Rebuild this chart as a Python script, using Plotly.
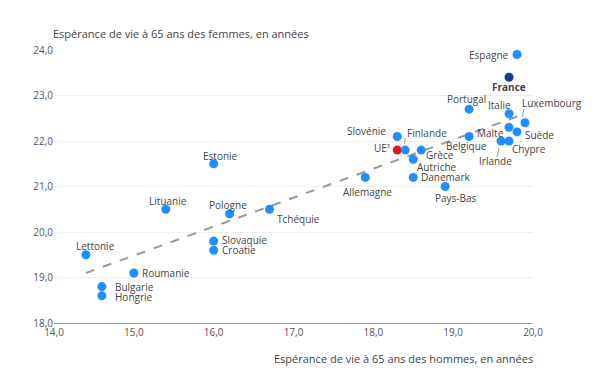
import plotly.graph_objects as go

countries = ["Espagne", "France", "Portugal", "Italie", "Luxembourg", "Malte", "Suède",
             "Slovénie", "Belgique", "Irlande", "Chypre", "UE¹", "Finlande", "Grèce",
             "Autriche", "Danemark", "Allemagne", "Pays-Bas", "Estonie", "Lituanie",
             "Pologne", "Tchéquie", "Slovaquie", "Croatie", "Lettonie", "Roumanie",
             "Bulgarie", "Hongrie"]
men = [19.8, 19.7, 19.2, 19.7, 19.9, 19.7, 19.8,
       18.3, 19.2, 19.6, 19.7, 18.3, 18.4, 18.6,
       18.5, 18.5, 17.9, 18.9, 16.0, 15.4,
       16.2, 16.7, 16.0, 16.0, 14.4, 15.0,
       14.6, 14.6]
women = [23.9, 23.4, 22.7, 22.6, 22.4, 22.3, 22.2,
         22.1, 22.1, 22.0, 22.0, 21.8, 21.8, 21.8,
         21.6, 21.2, 21.2, 21.0, 21.5, 20.5,
         20.4, 20.5, 19.8, 19.6, 19.5, 19.1,
         18.8, 18.6]
trend_x = [14.4, 19.9]
trend_y = [19.1, 22.6]
x_ticks = [14, 15, 16, 17, 18, 19, 20]
y_ticks = [18, 19, 20, 21, 22, 23, 24]

BLUE = "#1e8fff"
NAVY = "#163d8a"
RED = "#e8111f"
TXT = "#444444"
FONT = "Open Sans, sans-serif"

colors = [NAVY if c == "France" else RED if c == "UE¹" else BLUE for c in countries]

# label placement: (xanchor, xshift px, yshift px)
label_pos = {
    "Espagne": ("right", -6, 0),
    "France": ("center", 0, -10),
    "Portugal": ("center", -3, 10),
    "Italie": ("center", -10, 9),
    "Luxembourg": ("left", -5, 20),
    "Malte": ("right", -3, -6),
    "Suède": ("left", 6, -3),
    "Slovénie": ("center", -31, 5),
    "Belgique": ("center", -3, -10),
    "Irlande": ("center", -6, -20),
    "Chypre": ("left", 1, -8),
    "UE¹": ("right", -5, 2),
    "Finlande": ("left", 0, 17),
    "Grèce": ("left", 3, -5),
    "Autriche": ("left", 2, -8),
    "Danemark": ("left", 6, 0),
    "Allemagne": ("center", 2, -15),
    "Pays-Bas": ("center", 11, -11),
    "Estonie": ("center", 7, 8),
    "Lituanie": ("center", 2, 8),
    "Pologne": ("center", -2, 9),
    "Tchéquie": ("left", 5, -10),
    "Slovaquie": ("left", 6, 1),
    "Croatie": ("left", 6, 0),
    "Lettonie": ("center", 10, 9),
    "Roumanie": ("left", 6, 0),
    "Bulgarie": ("left", 11, 0),
    "Hongrie": ("left", 11, -1),
}
# leader lines in pixel offsets from point: (x0, y0, x1, y1), y up
leaders = {
    "Luxembourg": (-3, 6, -1, 14),
    "Finlande": (-1, 6, 0, 12),
    "Irlande": (-2, -7, -4, -16),
}

fig = go.Figure()
fig.add_trace(go.Scatter(
    x=trend_x, y=trend_y, mode="lines",
    line=dict(color="#999999", width=2, dash="dash"),
    hoverinfo="skip", showlegend=False))
fig.add_trace(go.Scatter(
    x=men, y=women, mode="markers", text=countries,
    marker=dict(size=9, color=colors),
    showlegend=False))

annotations = []
shapes = []
for c, xv, yv in zip(countries, men, women):
    xa, xs, ys = label_pos[c]
    annotations.append(dict(
        x=xv, y=yv, xref="x", yref="y", text=("<b>%s</b>" % c) if c == "France" else c,
        showarrow=False, xanchor=xa, yanchor="middle", xshift=xs, yshift=ys,
        font=dict(family=FONT, size=10, color=TXT)))
    if c in leaders:
        x0, y0, x1, y1 = leaders[c]
        shapes.append(dict(type="line", xref="x", yref="y",
                           xsizemode="pixel", ysizemode="pixel",
                           xanchor=xv, yanchor=yv, x0=x0, y0=y0, x1=x1, y1=y1,
                           line=dict(color="#999999", width=1)))

annotations.append(dict(
    x=0, y=1, xref="paper", yref="paper", xanchor="left", yanchor="middle",
    xshift=-3, yshift=17, text="Espérance de vie à 65 ans des femmes, en années",
    showarrow=False, font=dict(family=FONT, size=11, color=TXT)))
annotations.append(dict(
    x=1, y=0, xref="paper", yref="paper", xanchor="right", yanchor="middle",
    xshift=2, yshift=-35, text="Espérance de vie à 65 ans des hommes, en années",
    showarrow=False, font=dict(family=FONT, size=11, color=TXT)))

fig.update_layout(
    width=601, height=386,
    margin=dict(l=54, r=68, t=50, b=63, autoexpand=False),
    paper_bgcolor="white", plot_bgcolor="white",
    separators=", ",
    font=dict(family=FONT, size=10, color=TXT),
    xaxis=dict(range=[14, 20], tickvals=x_ticks, tickformat=".1f",
               showgrid=False, zeroline=False, showline=True,
               linecolor="#999999", linewidth=1, ticks="",
               tickfont=dict(family=FONT, size=10, color="#555555"),
               automargin=False),
    yaxis=dict(range=[18, 24], tickvals=y_ticks, tickformat=".1f",
               showgrid=True, gridcolor="#eeeeee", gridwidth=1,
               zeroline=False, showline=False, ticks="",
               tickfont=dict(family=FONT, size=10, color="#555555"),
               automargin=False),
    annotations=annotations, shapes=shapes,
)

fig.write_html("out.html", config={"displayModeBar": False},
               post_script="document.body.style.margin='0px';")
